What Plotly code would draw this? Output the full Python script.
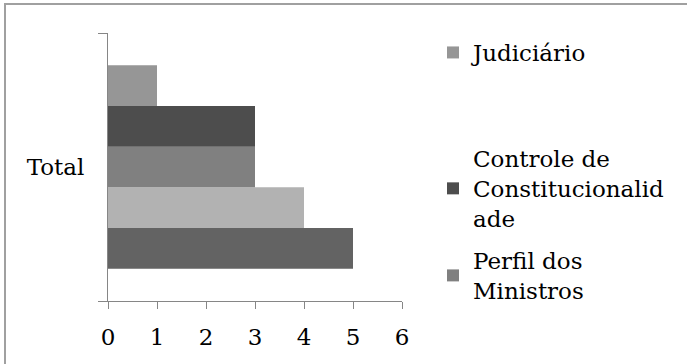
import plotly.graph_objects as go

category = ["Total"]
# bottom to top (plotly draws the first trace at the bottom)
series_names = ["Série 5", "Série 4", "Perfil dos<br>Ministros",
                "Controle de<br>Constitucionalid<br>ade", "Judiciário"]
series_values = [5, 4, 3, 3, 1]
series_colors = ["#636363", "#b2b2b2", "#808080", "#4d4d4d", "#969696"]
series_legend = [None, None, "legend3", "legend2", "legend"]
x_ticks = [0, 1, 2, 3, 4, 5, 6]

FONT = "DejaVu Serif, serif"
FS = 23

fig = go.Figure()
for name, val, col, leg in zip(series_names, series_values, series_colors, series_legend):
    fig.add_trace(go.Bar(
        y=category, x=[val], orientation="h", name=name,
        marker=dict(color=col, line=dict(width=0)),
        showlegend=leg is not None,
        legend=leg if leg else "legend",
    ))

W, H = 687, 364
L, R, T, B = 108, 285, 33, 63
pw, ph = W - L - R, H - T - B


def px(x):
    return (x - L) / pw


def py(y):
    return (H - B - y) / ph


leg_common = dict(font=dict(family=FONT, size=FS, color="#000000"),
                  bgcolor="rgba(0,0,0,0)", borderwidth=0,
                  xanchor="left", yanchor="top", itemclick=False)

fig.update_layout(
    width=W, height=H,
    margin=dict(l=L, r=R, t=T, b=B),
    paper_bgcolor="white", plot_bgcolor="white",
    barmode="group", bargap=0.24, bargroupgap=0,
    font=dict(family=FONT, size=FS, color="#000000"),
    legend=dict(x=px(433), y=py(31), **leg_common),
    legend2=dict(x=px(433), y=py(137), **leg_common),
    legend3=dict(x=px(433), y=py(239), **leg_common),
    xaxis=dict(range=[0, 6], tickvals=x_ticks, ticks="outside", ticklen=7,
               tickcolor="#868686", showline=True, linecolor="#868686",
               linewidth=1, showgrid=False, zeroline=False, fixedrange=True,
               ticklabelstandoff=8),
    yaxis=dict(type="category", tickson="boundaries", ticks="outside",
               ticklen=9, tickcolor="#868686", showline=True,
               linecolor="#868686", linewidth=1, showgrid=False,
               ticklabelstandoff=18, fixedrange=True),
    shapes=[dict(type="rect", xref="paper", yref="paper",
                 x0=px(5), x1=px(720), y0=py(4), y1=py(400),
                 line=dict(color="#a0a0a0", width=2), fillcolor="rgba(0,0,0,0)",
                 layer="below")],
)

fig.write_html("out.html")
